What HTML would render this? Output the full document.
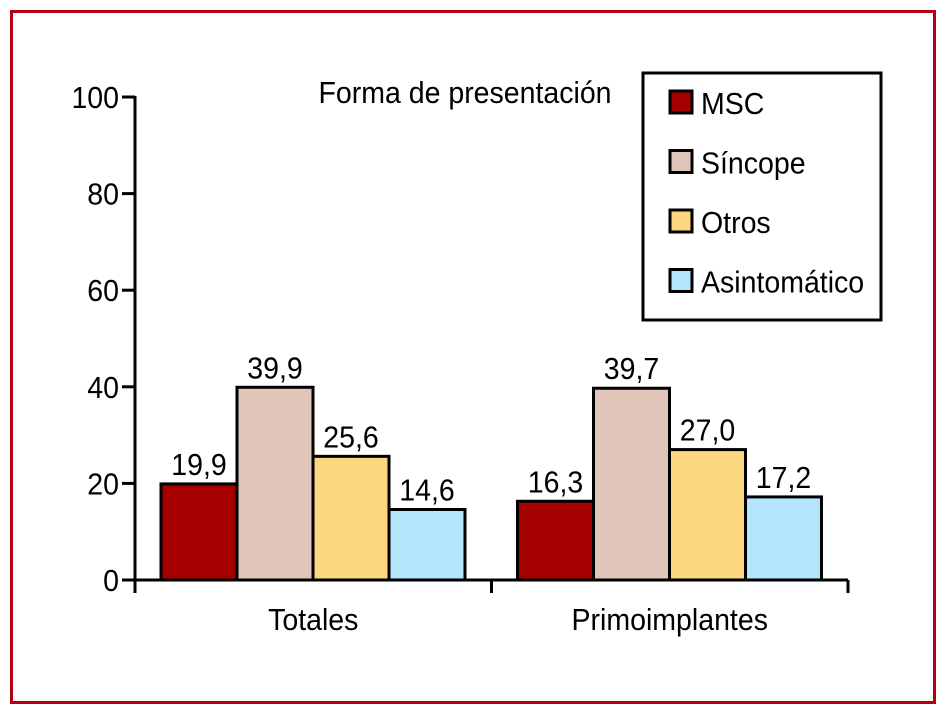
<!DOCTYPE html>
<html><head><meta charset="utf-8"><style>
body{margin:0;background:#fff}
svg{display:block;font-family:"Liberation Sans Narrow","Liberation Sans",sans-serif}
</style></head><body>
<svg id="chart" width="950" height="715" viewBox="0 0 950 715">
<rect x="11.5" y="11.5" width="923" height="691" fill="none" stroke="#b5000f" stroke-width="3"/>
<g id="axes"></g><g id="bars"></g>
<g>
<rect x="643" y="73" width="238" height="247" fill="#fff" stroke="#000" stroke-width="3"/>
<g id="legend"></g>
</g>
<g id="titleg"></g>
</svg>
<script>
const categories=["Totales","Primoimplantes"];
const seriesNames=["MSC","Síncope","Otros","Asintomático"];
const msc=[19.9,16.3];
const sincope=[39.9,39.7];
const otros=[25.6,27.0];
const asint=[14.6,17.2];
const yTicks=[0,20,40,60,80,100];
const colors=["#a50000","#e0c6b9","#fcd77f","#b3e5fc"];
const series=[msc,sincope,otros,asint];
const NS="http://www.w3.org/2000/svg";
function mk(tag,attrs,parent,text){const e=document.createElementNS(NS,tag);for(const k in attrs)e.setAttribute(k,attrs[k]);if(text!==undefined)e.textContent=text;parent.appendChild(e);return e;}
function txt(x,yy,s,anchor,parent){return mk('text',{transform:'translate('+x+','+yy+') scale(0.92,1)','font-size':31,'text-anchor':anchor},parent,s);}
const y0=580,y100=97,xL=135,xR=848;
const y=v=>y0-(y0-y100)*v/100;
const groupW=(xR-xL)/categories.length;
const barW=76;
const xBar=(g,s)=>xL+groupW*g+26+barW*s;
const axes=document.getElementById('axes'),bars=document.getElementById('bars'),leg=document.getElementById('legend');
const title=txt(465,103,'Forma de presentación','middle',document.getElementById('titleg'));


series.forEach((arr,s)=>arr.forEach((v,g)=>{
 const r=mk('rect',{x:xBar(g,s),y:y(v),width:barW,height:y0-y(v),fill:colors[s],stroke:'#000','stroke-width':3},bars);
 
 
 const t=txt(xBar(g,s)+barW/2,y(v)-9,v.toFixed(1).replace('.',','),'middle',bars);
 
 
}));
const ya=mk('line',{x1:xL,y1:y100-1,x2:xL,y2:y0+13,stroke:'#000','stroke-width':3},axes);


const xa=mk('line',{x1:xL,y1:y0,x2:xR,y2:y0,stroke:'#000','stroke-width':3},axes);


yTicks.forEach(v=>{
 mk('line',{x1:xL-13,y1:y(v),x2:xL,y2:y(v),stroke:'#000','stroke-width':3},axes);
 const t=txt(xL-16,y(v)+11,String(v),'end',axes);
 
 
});
for(let g=0;g<=categories.length;g++){mk('line',{x1:xL+groupW*g,y1:y0,x2:xL+groupW*g,y2:y0+13,stroke:'#000','stroke-width':3},axes);}
categories.forEach((c,g)=>{
 const t=txt(xL+groupW*(g+0.5),630,c,'middle',axes);
 
 
});
seriesNames.forEach((n,i)=>{
 const yy=103+i*59.5;
 const r=mk('rect',{x:670,y:yy-12,width:22,height:22,fill:colors[i],stroke:'#000','stroke-width':3},leg);
 
 
 const t=txt(701,yy+11,n,'start',leg);
 
 
});
</script>
</body></html>
